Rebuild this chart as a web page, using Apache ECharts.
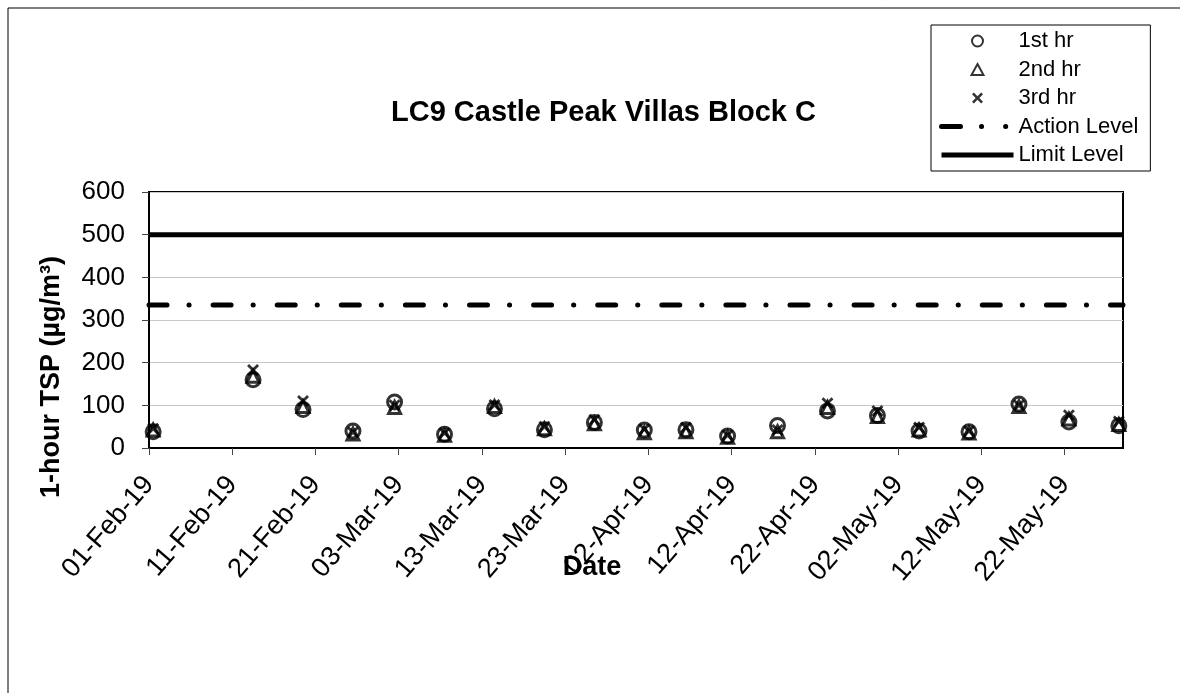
<!DOCTYPE html>
<html>
<head>
<meta charset="utf-8">
<title>LC9 Castle Peak Villas Block C</title>
<script src="https://cdn.jsdelivr.net/npm/echarts@6/dist/echarts.min.js"></script>
<style>
  html, body { margin: 0; padding: 0; background: #fff; }
  #chart { width: 1180px; height: 693px; }
</style>
</head>
<body>
<div id="chart"></div>
<script>
// sampling dates and the three hourly readings (µg/m³)
var dates = ['2019-02-01', '2019-02-13', '2019-02-19', '2019-02-25', '2019-03-02',
  '2019-03-08', '2019-03-14', '2019-03-20', '2019-03-26', '2019-04-01',
  '2019-04-06', '2019-04-11', '2019-04-17', '2019-04-23', '2019-04-29',
  '2019-05-04', '2019-05-10', '2019-05-16', '2019-05-22', '2019-05-28'];
var hr1 = [38, 160, 90, 40, 108, 32, 92, 43, 60, 42, 43, 28, 53, 87, 76, 40, 38, 103, 61, 52];
var hr2 = [42, 168, 97, 33, 95, 30, 97, 45, 57, 36, 38, 25, 38, 95, 74, 42, 35, 97, 68, 55];
var hr3 = [45, 183, 110, 37, 100, 35, 101, 50, 66, 44, 48, 30, 42, 105, 87, 48, 40, 100, 77, 62];

var actionLevel = 335;
var limitLevel = 500;

// x axis runs in days from the start date, ticks every 10 days
var startDate = '2019-02-01';
var axisDays = 117;
var yTicks = [0, 100, 200, 300, 400, 500, 600];

var monthNames = ['Jan','Feb','Mar','Apr','May','Jun','Jul','Aug','Sep','Oct','Nov','Dec'];
var DAY = 86400000;
var FONT = 'Liberation Sans, Arial, sans-serif';

function toUTC(s) {
  var p = s.split('-');
  return Date.UTC(+p[0], +p[1] - 1, +p[2]);
}
var t0 = toUTC(startDate);

// Excel date axis puts each point in the middle of its day
function dayPos(s) {
  return (toUTC(s) - t0) / DAY + 0.5;
}

function pad(n) { return n < 10 ? '0' + n : '' + n; }
function fmtDay(v) {
  var d = new Date(t0 + Math.round(v) * DAY);
  return pad(d.getUTCDate()) + '-' + monthNames[d.getUTCMonth()] + '-' + pad(d.getUTCFullYear() % 100);
}

function pairs(vals) {
  return dates.map(function (s, i) { return [dayPos(s), vals[i]]; });
}

var crossPath = 'path://M0,2 L2,0 L6,4 L10,0 L12,2 L8,6 L12,10 L10,12 L6,8 L2,12 L0,10 L4,6 Z';
var triPath = 'path://M6,0 L12,11 L0,11 Z';
var noIcon = { color: 'rgba(0,0,0,0)', borderWidth: 0 };

var chart = echarts.init(document.getElementById('chart'));

var option = {
  animation: false,
  backgroundColor: '#fff',
  textStyle: { fontFamily: FONT, color: '#000' },
  title: {
    text: 'LC9 Castle Peak Villas Block C',
    left: 386,
    top: 93,
    textStyle: { fontSize: 29, fontWeight: 'bold', color: '#000', fontFamily: FONT }
  },
  legend: {
    orient: 'vertical',
    left: 931,
    top: 25,
    padding: [5, 12, 5, 8],
    borderColor: '#000',
    borderWidth: 1,
    itemWidth: 72,
    itemHeight: 11,
    itemGap: 6.5,
    textStyle: { fontSize: 22, lineHeight: 22, color: '#000', fontFamily: FONT },
    data: [
      { name: '1st hr' },
      { name: '2nd hr' },
      { name: '3rd hr' },
      { name: 'Action Level', itemStyle: noIcon,
        lineStyle: { color: '#000', width: 5, type: [19, 21, 0.1, 24, 0.1, 40], cap: 'round' } },
      { name: 'Limit Level', itemStyle: noIcon,
        lineStyle: { color: '#000', width: 5 } }
    ]
  },
  grid: {
    left: 149,
    right: 57,
    top: 192,
    bottom: 245,
    show: true,
    borderColor: '#000',
    borderWidth: 2
  },
  xAxis: {
    type: 'value',
    min: 0,
    max: axisDays,
    interval: 10,
    axisLine: { show: true, lineStyle: { color: '#000', width: 2 } },
    axisTick: { show: true, length: 7, lineStyle: { color: '#444', width: 1 } },
    splitLine: { show: false },
    axisLabel: {
      rotate: 49,
      margin: 32,
      fontSize: 27,
      color: '#000',
      showMaxLabel: false,
      formatter: function (v) { return v % 10 === 0 ? fmtDay(v) : ''; }
    }
  },
  yAxis: {
    type: 'value',
    min: yTicks[0],
    max: yTicks[yTicks.length - 1],
    interval: 100,
    axisLine: { show: true, lineStyle: { color: '#000', width: 2 } },
    axisTick: { show: true, length: 7, lineStyle: { color: '#444', width: 1 } },
    splitLine: { show: true, lineStyle: { color: '#c8c8c8', width: 1 } },
    axisLabel: { fontSize: 26, color: '#000', margin: 24 }
  },
  graphic: [
    {
      type: 'rect',
      shape: { x: 8, y: 8, width: 1200, height: 700 },
      style: { fill: 'none', stroke: '#000', lineWidth: 1 },
      silent: true
    },
    {
      type: 'text',
      x: 52,
      y: 377,
      rotation: Math.PI / 2,
      style: {
        text: '1-hour TSP (µg/m³)', fontSize: 27, fontWeight: 'bold', fill: '#000',
        fontFamily: FONT, align: 'center', verticalAlign: 'middle'
      }
    },
    {
      type: 'text',
      x: 592,
      y: 568,
      style: {
        text: 'Date', fontSize: 27, fontWeight: 'bold', fill: '#000',
        fontFamily: FONT, align: 'center', verticalAlign: 'middle'
      }
    }
  ],
  series: [
    {
      name: 'Limit Level',
      type: 'line',
      symbol: 'none',
      z: 1,
      lineStyle: { color: '#000', width: 5 },
      itemStyle: { color: '#000' },
      data: [[0, limitLevel], [axisDays, limitLevel]]
    },
    {
      name: 'Action Level',
      type: 'line',
      symbol: 'none',
      z: 1,
      lineStyle: { color: '#000', width: 5, type: [18, 22, 0.1, 24], cap: 'round' },
      itemStyle: { color: '#000' },
      data: [[0, actionLevel], [axisDays, actionLevel]]
    },
    {
      name: '1st hr',
      type: 'scatter',
      symbol: 'circle',
      symbolSize: 14,
      z: 3,
      itemStyle: { color: 'rgba(0,0,0,0)', borderColor: '#000', borderWidth: 3 },
      data: pairs(hr1)
    },
    {
      name: '2nd hr',
      type: 'scatter',
      symbol: triPath,
      symbolSize: 12,
      z: 3,
      itemStyle: { color: 'rgba(0,0,0,0)', borderColor: '#000', borderWidth: 3 },
      data: pairs(hr2)
    },
    {
      name: '3rd hr',
      type: 'scatter',
      symbol: crossPath,
      symbolSize: 12,
      z: 3,
      itemStyle: { color: '#000' },
      data: pairs(hr3)
    }
  ]
};

chart.setOption(option);
</script>
</body>
</html>
